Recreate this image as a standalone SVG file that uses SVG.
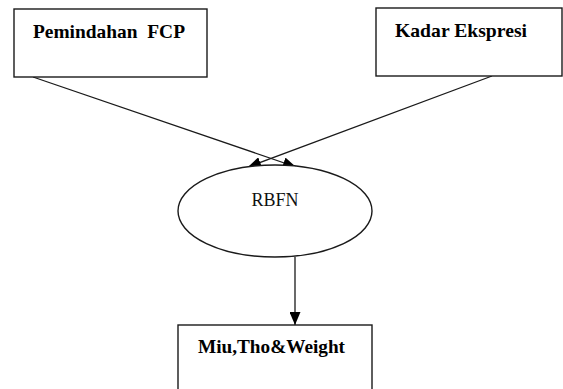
<svg xmlns="http://www.w3.org/2000/svg" width="563" height="389" viewBox="0 0 563 389">
<defs>
<style>
.box{fill:#fff;stroke:#1a1a1a;stroke-width:1.4}
.lbl{font-family:"Liberation Serif","Times New Roman",serif;font-weight:bold;font-size:19px;fill:#000}
.mono{font-family:"Liberation Serif","Times New Roman",serif;font-size:18px;fill:#111}
.con{stroke:#1a1a1a;stroke-width:1.3;fill:none}
</style>
<marker id="ah" markerWidth="13" markerHeight="11" refX="13" refY="5.5" orient="auto" markerUnits="userSpaceOnUse">
<path d="M0,0 L13,5.5 L0,11 Z" fill="#000"/>
</marker>
</defs>
<rect width="563" height="389" fill="#fff"/>
<g id="connectors">
<line class="con" x1="33" y1="77" x2="296" y2="167" marker-end="url(#ah)"/>
<line class="con" x1="492" y1="76" x2="248" y2="167" marker-end="url(#ah)"/>
<line class="con" x1="295" y1="257" x2="295" y2="325" marker-end="url(#ah)"/>
</g>
<g id="pemindahan">
<rect class="box" x="14" y="9" width="193" height="68"/>
<text class="lbl" x="33" y="38" textLength="152" lengthAdjust="spacingAndGlyphs">Pemindahan&#160; FCP</text>
</g>
<g id="kadar">
<rect class="box" x="376" y="8" width="186" height="68"/>
<text class="lbl" x="395" y="37" textLength="132" lengthAdjust="spacingAndGlyphs">Kadar Ekspresi</text>
</g>
<g id="rbfn">
<ellipse class="box" cx="275" cy="211" rx="97" ry="46"/>
<text class="mono" x="275" y="206" text-anchor="middle" textLength="47" lengthAdjust="spacingAndGlyphs">RBFN</text>
</g>
<g id="miu">
<rect class="box" x="178" y="325" width="194" height="80"/>
<text class="lbl" x="198" y="353" textLength="147" lengthAdjust="spacingAndGlyphs">Miu,Tho&amp;Weight</text>
</g>
</svg>
